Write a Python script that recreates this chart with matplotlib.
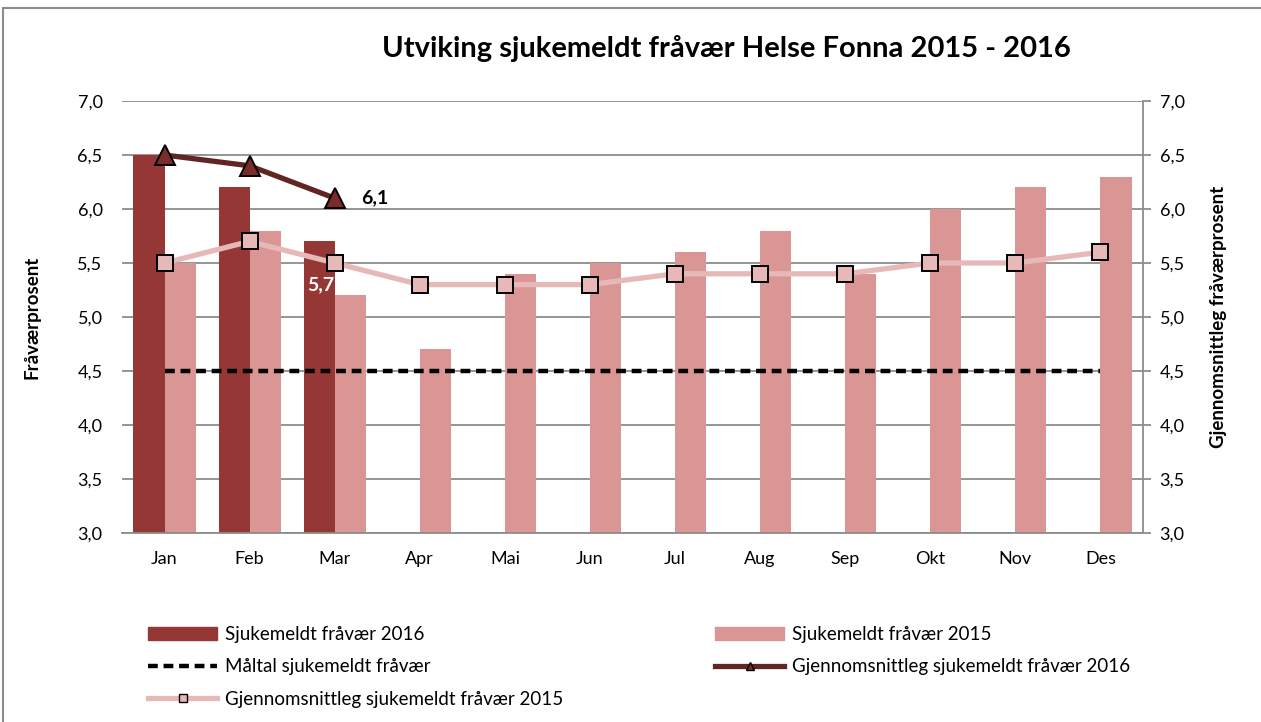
import matplotlib
matplotlib.use('Agg')
import matplotlib.pyplot as plt
from matplotlib.ticker import FuncFormatter, MultipleLocator
from matplotlib.patches import Rectangle
from matplotlib.lines import Line2D
import numpy as np

plt.rcParams['font.family'] = ['Lato', 'DejaVu Sans']

months = ['Jan', 'Feb', 'Mar', 'Apr', 'Mai', 'Jun', 'Jul', 'Aug', 'Sep', 'Okt', 'Nov', 'Des']
fravaer_2016 = [6.5, 6.2, 5.7]
fravaer_2015 = [5.5, 5.8, 5.2, 4.7, 5.4, 5.5, 5.6, 5.8, 5.4, 6.0, 6.2, 6.3]
snitt_2016 = [6.5, 6.4, 6.1]
snitt_2015 = [5.5, 5.7, 5.5, 5.3, 5.3, 5.3, 5.4, 5.4, 5.4, 5.5, 5.5, 5.6]
maltal = [4.5] * 12

c_bar16 = '#953735'
c_bar15 = '#D99694'
c_avg16 = '#632523'
c_tri = '#7B2C2A'
c_avg15 = '#E6B9B8'
c_grid = '#8C8C8C'

fig = plt.figure(figsize=(12.61, 7.22), dpi=100)
ax = fig.add_axes([122 / 1261, 1 - 533 / 722, (1143 - 122) / 1261, (533 - 101) / 722])

x = np.arange(len(months))
w = 0.365
ax.bar(x[:3] - w / 2, fravaer_2016, w, color=c_bar16, zorder=2)
ax.bar(x + w / 2, fravaer_2015, w, color=c_bar15, zorder=2)
ax.plot(x, maltal, color='black', lw=3.2, dashes=(2.2, 1.3), zorder=3)
ax.plot(x, snitt_2015, color=c_avg15, lw=3.8, marker='s', ms=12,
        mfc=c_avg15, mec='black', mew=1.4, zorder=4)
ax.plot(x[:3], snitt_2016, color=c_avg16, lw=3.8, marker='^', ms=14,
        mfc=c_tri, mec='black', mew=1.4, zorder=5)

ax.set_xlim(-0.5, 11.5)
ax.set_ylim(3.0, 7.0)
ax.yaxis.set_major_locator(MultipleLocator(0.5))
fmt = FuncFormatter(lambda v, p: f'{v:.1f}'.replace('.', ','))
ax.yaxis.set_major_formatter(fmt)
ax.set_xticks(x)
ax.set_xticklabels(months)
ax.tick_params(axis='both', length=0, labelsize=13, pad=13)
ax.tick_params(axis='y', pad=14)
ax.grid(axis='y', color=c_grid, lw=1.3, zorder=0)
ax.set_axisbelow(True)
for s in ['left', 'top', 'right']:
    ax.spines[s].set_visible(False)
ax.spines['bottom'].set_color(c_grid)
ax.spines['bottom'].set_linewidth(1.3)
ax.set_ylabel('Fråværprosent', fontsize=13.5, fontweight='bold')
ax.yaxis.set_label_coords((40 - 122) / 1021, 0.5)

ax2 = ax.twinx()
ax2.set_ylim(3.0, 7.0)
ax2.yaxis.set_major_locator(MultipleLocator(0.5))
ax2.yaxis.set_major_formatter(fmt)
ax2.tick_params(axis='y', direction='out', length=6, width=1.3, color=c_grid,
                labelsize=13, pad=6)
for s in ['left', 'top', 'bottom']:
    ax2.spines[s].set_visible(False)
ax2.spines['right'].set_color(c_grid)
ax2.spines['right'].set_linewidth(1.3)
ax2.set_ylabel('Gjennomsnittleg fråværprosent', fontsize=13.5, fontweight='bold')
ax2.yaxis.set_label_coords((1210 - 122) / 1021, 0.5)

ax2.annotate('6,1', (x[2], snitt_2016[2]), xytext=(40, 0), textcoords='offset pixels',
             ha='center', va='center', fontsize=14, fontweight='bold', zorder=6)
ax2.annotate('5,7', (x[2] - w / 2, 5.5), xytext=(2, -22), textcoords='offset pixels',
             ha='center', va='center', fontsize=14, fontweight='bold', color='white', zorder=6)

fig.text(726 / 1261, 1 - 48 / 722, 'Utviking sjukemeldt fråvær Helse Fonna 2015 - 2016',
         ha='center', va='center', fontsize=21, fontweight='bold')

h_bar16 = Rectangle((0, 0), 1, 1, color=c_bar16)
h_bar15 = Rectangle((0, 0), 1, 1, color=c_bar15)
h_mal = Line2D([], [], color='black', lw=3.2, dashes=(2.2, 1.3))
h_avg16 = Line2D([], [], color=c_avg16, lw=3.8, marker='^', ms=6, mfc=c_tri, mec='black')
h_avg15 = Line2D([], [], color=c_avg15, lw=3.8, marker='s', ms=6, mfc=c_avg15, mec='black')

leg_kw = dict(frameon=False, fontsize=13.5, handlelength=3.7, handletextpad=0.4,
              labelspacing=0.82, borderaxespad=0, borderpad=0)
fig.legend([h_bar16, h_mal, h_avg15],
           ['Sjukemeldt fråvær 2016', 'Måltal sjukemeldt fråvær', 'Gjennomsnittleg sjukemeldt fråvær 2015'],
           loc='upper left', bbox_to_anchor=(148 / 1261, 1 - 626 / 722), **leg_kw)
fig.legend([h_bar15, h_avg16],
           ['Sjukemeldt fråvær 2015', 'Gjennomsnittleg sjukemeldt fråvær 2016'],
           loc='upper left', bbox_to_anchor=(715 / 1261, 1 - 626 / 722), **leg_kw)

fig.patches.append(Rectangle((3 / 1261, -0.01), 1.1, 1 - 8 / 722 + 0.01, transform=fig.transFigure,
                             fill=False, edgecolor='#8C8C8C', lw=1.5))

fig.savefig('out.png', dpi=100)
